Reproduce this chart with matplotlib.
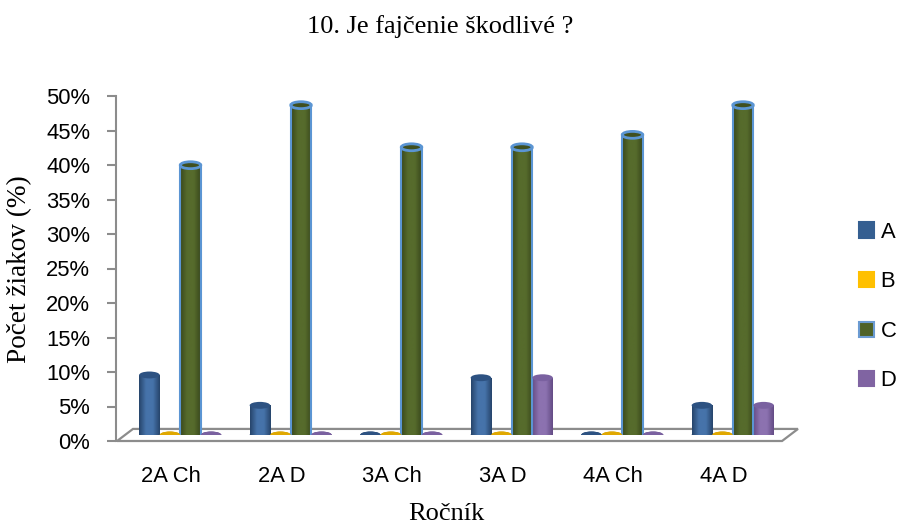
import numpy as np
import matplotlib.pyplot as plt
from matplotlib.patches import Ellipse, Polygon, Patch
from matplotlib.colors import LinearSegmentedColormap

# data (percent of pupils per class)
classes = ['2A Ch', '2A D', '3A Ch', '3A D', '4A Ch', '4A D']
series = ['A', 'B', 'C', 'D']
val_a = [8.7, 4.3, 0.0, 8.3, 0.0, 4.3]
val_b = [0.0, 0.0, 0.0, 0.0, 0.0, 0.0]
val_c = [39.1, 47.8, 41.7, 41.7, 43.5, 47.8]
val_d = [0.0, 0.0, 0.0, 8.3, 0.0, 4.3]
yticks = [0, 5, 10, 15, 20, 25, 30, 35, 40, 45, 50]

# colours: (dark edge, light middle, top, outline)
styles = {
    'A': ('#27456b', '#4673aa', '#2d5282', None),
    'B': ('#c99500', '#ffc726', '#e0a800', None),
    'C': ('#39471c', '#566b2c', '#3f4f1f', '#5b95d3'),
    'D': ('#644c85', '#8c72b0', '#7a61a0', None),
}
legend_cols = {'A': '#355f91', 'B': '#ffc000', 'C': '#4f6228', 'D': '#8064a2'}

W, H = 901, 530
fig = plt.figure(figsize=(W / 100, H / 100), dpi=100)

sans = 'Liberation Sans'
serif = 'Liberation Serif'

# frame axes: ticks, spine, floor, category labels
ax = fig.add_axes([115.75 / W, (H - 441) / H, 663 / W, 345 / H])
ax.set_xlim(-0.5, 5.5)
ax.set_ylim(0, 50)
ax.patch.set_alpha(0)
for s in ['top', 'right', 'bottom']:
    ax.spines[s].set_visible(False)
ax.spines['left'].set_color('#8c8c8c')
ax.spines['left'].set_linewidth(1.5)
ax.set_yticks(yticks)
ax.set_yticklabels(['{}%'.format(t) for t in yticks], fontfamily=sans, fontsize=15.8)
ax.tick_params(axis='y', length=6.5, width=1.5, color='#8c8c8c', pad=12)
ax.set_xticks(range(len(classes)))
ax.set_xticklabels(classes, fontfamily=sans, fontsize=15.8)
ax.tick_params(axis='x', length=0, pad=18)

floor = Polygon([(0.002, 0.0), (1.005, 0.0), (1.029, 0.035), (0.026, 0.035)],
                closed=True, transform=ax.transAxes, clip_on=False,
                facecolor='white', edgecolor='#8c8c8c', lw=1.6, zorder=1)
ax.add_patch(floor)

# bar axes, shifted a little like the 3d perspective
bx = fig.add_axes([125 / W, (H - 435) / H, 663 / W, 345 / H])
bx.set_xlim(-0.5, 5.5)
bx.set_ylim(0, 50)
bx.axis('off')

x = np.arange(len(classes))
width = 0.186
ell_h = 1.0
all_vals = [val_a, val_b, val_c, val_d]

for k, (name, vals) in enumerate(zip(series, all_vals)):
    dark, light, top, outline = styles[name]
    cmap = LinearSegmentedColormap.from_list(name, [dark, light, light, dark])
    pos = x + (k - 1.5) * width
    bars = bx.bar(pos, vals, width=width, color=light, lw=0, zorder=3)
    for b, v in zip(bars, vals):
        cx = b.get_x() + b.get_width() / 2
        # rounded base
        bx.add_patch(Ellipse((cx, 0), width, ell_h, facecolor=dark,
                             edgecolor=outline if outline else 'none',
                             lw=1.5, zorder=2))
        if v > 0:
            grad = np.linspace(0, 1, 64).reshape(1, -1)
            im = bx.imshow(grad, cmap=cmap, aspect='auto', zorder=3,
                           extent=[b.get_x(), b.get_x() + b.get_width(), 0, v])
            im.set_clip_path(b)
            if outline:
                bx.plot([b.get_x(), b.get_x()], [0, v], color=outline, lw=1.5, zorder=4)
                bx.plot([b.get_x() + width, b.get_x() + width], [0, v],
                        color=outline, lw=1.5, zorder=4)
        bx.add_patch(Ellipse((cx, v), width, ell_h, facecolor=top,
                             edgecolor=outline if outline else 'none',
                             lw=2, zorder=5))

bx.set_xlim(-0.5, 5.5)
bx.set_ylim(0, 50)

fig.text(440 / W, 1 - 27 / H, '10. Je fajčenie škodlivé ?', ha='center', va='center',
         fontfamily=serif, fontsize=19)
fig.text(446 / W, 1 - 514 / H, 'Ročník', ha='center', va='center',
         fontfamily=serif, fontsize=19)
fig.text(20 / W, 1 - 269.5 / H, 'Počet žiakov (%)', ha='center', va='center',
         rotation=90, fontfamily=serif, fontsize=19.6)

handles = [Patch(facecolor=legend_cols[s],
                 edgecolor='#6b9bd2' if s == 'C' else legend_cols[s], lw=1.5)
           for s in series]
fig.legend(handles, series, loc='center left', bbox_to_anchor=(859 / W, 1 - 306.5 / H),
           frameon=False, prop={'family': sans, 'size': 15.8},
           handlelength=0.68, handleheight=0.68, handletextpad=0.3,
           labelspacing=1.3, borderpad=0, borderaxespad=0)

fig.savefig('out.png', dpi=100)
